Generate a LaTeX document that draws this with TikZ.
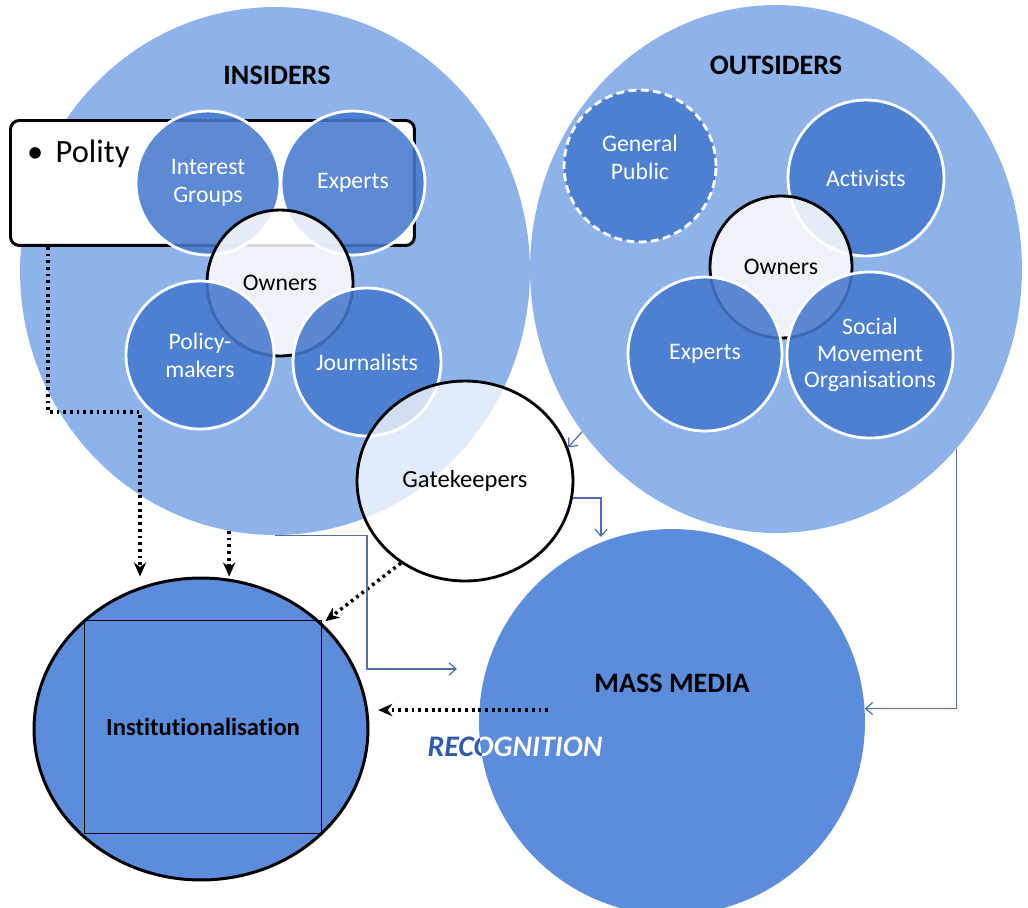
\documentclass[tikz,border=0pt]{standalone}
\usepackage{fontspec}
\setmainfont{Carlito}[Ligatures={NoCommon}]
\usetikzlibrary{arrows.meta,positioning,calc,shapes.geometric}
\definecolor{paleblue}{HTML}{8EB3EA}
\definecolor{deepblue}{HTML}{4479CE}
\definecolor{mediablue}{HTML}{5B8DDC}
\definecolor{flowblue}{HTML}{4F6FAE}
\definecolor{recogblue}{HTML}{2F5BA8}
\tikzset{
  camp/.style={ellipse, fill=paleblue, inner sep=0pt},
  actor/.style={circle, fill=deepblue, fill opacity=0.87, text opacity=1,
    draw=white, line width=1.6pt, text=white, align=center,
    font=\fontsize{13.5}{16}\selectfont, minimum size=#1*0.04cm},
  owner/.style={circle, fill=white, fill opacity=0.85, text opacity=1,
    draw=black, line width=1.6pt, font=\fontsize{13.5}{16}\selectfont,
    minimum size=#1*0.04cm},
  heading/.style={font=\fontsize{16}{19}\selectfont\bfseries},
  dotarrow/.style={-{Stealth[length=8pt,width=7pt]}, line width=2pt,
    dash pattern=on 1.6pt off 2.2pt},
  flow/.style={>={Straight Barb[length=4pt,width=7pt]}, ->, flowblue,
    line width=0.7pt}
}

\begin{document}
\begin{tikzpicture}[x=0.02cm,y=-0.02cm]
  \useasboundingbox (0,0) rectangle (1028,907);
  \fill[white] (0,0) rectangle (1028,907);

  % the two camps
  \node[camp, minimum width=10.2cm, minimum height=10.56cm] (insiders) at (275,271) {};
  \node[camp, minimum width=9.84cm, minimum height=10.56cm] (outsiders) at (776,269) {};
  \node[heading] (instag) at (277,75) {INSIDERS};
  \node[heading] (outstag) at (776,65) {OUTSIDERS};

  % polity frame behind the insider circles
  \node[draw, line width=1.7pt, fill=white, rounded corners=5pt, anchor=north west,
    minimum width=8.08cm, minimum height=2.5cm] (polity) at (9,119) {};
  \node[anchor=base west, font=\fontsize{18.5}{22}\selectfont] (politext) at (21,162)
    {\textbullet\hspace{7pt}Polity};

  % insiders
  \node[actor=72] (igroup) at (208,183) {Interest\\Groups};
  \node[actor=72] (iexp) at (353,183) {Experts};
  \node[owner=73] (iown) at (280,283) {Owners};
  \node[actor=74] (ipol) at (200,355) {Policy-\\makers};
  \node[actor=74] (ijour) at (367,362) {Journalists};

  % outsiders
  \node[actor=76, dashed, dash pattern=on 4.5pt off 2.5pt] (opub) at (640,166) {General\\Public\\[-6pt]};
  \node[actor=78] (oact) at (866,178) {Activists};
  \node[owner=71] (oown) at (781,267) {Owners};
  \node[actor=77] (oexp) at (705,354) {Experts};
  \node[actor=79, font=\fontsize{13.5}{15}\selectfont] (osmo) at (870,355) {Social\\Movement\\Organisations};

  \node[ellipse, draw=black, line width=1.6pt, fill=white, fill opacity=0.75,
    text opacity=1, minimum width=4.32cm, minimum height=4cm,
    font=\fontsize{14}{17}\selectfont] (gate) at (465,481) {Gatekeepers};

  % media and institutions
  \node[circle, fill=mediablue, minimum size=7.72cm] (media) at (672,722) {};
  \node[heading] (medialabel) at (672,683) {MASS MEDIA};
  \node[ellipse, draw=black, line width=1.7pt, fill=mediablue,
    minimum width=6.68cm, minimum height=6.04cm] (inst) at (201,729) {};
  \node[draw=black, line width=1.1pt, minimum width=4.74cm, minimum height=4.26cm,
    font=\fontsize{14}{17}\selectfont\bfseries] (instbox) at (203,727) {Institutionalisation};

  \node[font=\fontsize{17}{20}\selectfont\bfseries\itshape, text=recogblue] (recog) at (515,747) {RECOGNITION};
  \begin{scope}
    \clip (media.center) circle (3.86cm);
    \node[font=\fontsize{17}{20}\selectfont\bfseries\itshape, text=white] (recogw) at (515,747) {RECOGNITION};
  \end{scope}

  % dotted routes into institutionalisation
  \coordinate (pturn) at (140,412);
  \draw[dotarrow] ([xshift=0.78cm]polity.south west) |- (pturn) -- (pturn |- inst.north);
  \draw[dotarrow] (insiders.-100) -- (insiders.-100 |- inst.north);
  \draw[dotarrow, shorten >=2pt] (gate.232) -- (inst.41);
  \coordinate (rstart) at (548,710);
  \draw[dotarrow, shorten >=5pt] (rstart) -- (rstart -| inst.east);

  % thin flows towards the media
  \coordinate (ibend) at (367,669);
  \draw[flow] (insiders.south) -| (ibend) -- ++(90,0);
  \coordinate (gdrop) at (601,537);
  \draw[flow] (gate.-9) -| (gdrop);
  \draw[flow] (outsiders.220) -- (gate.18);
  \draw[flow] (outsiders.-45) |- (media.4);
\end{tikzpicture}
\end{document}
